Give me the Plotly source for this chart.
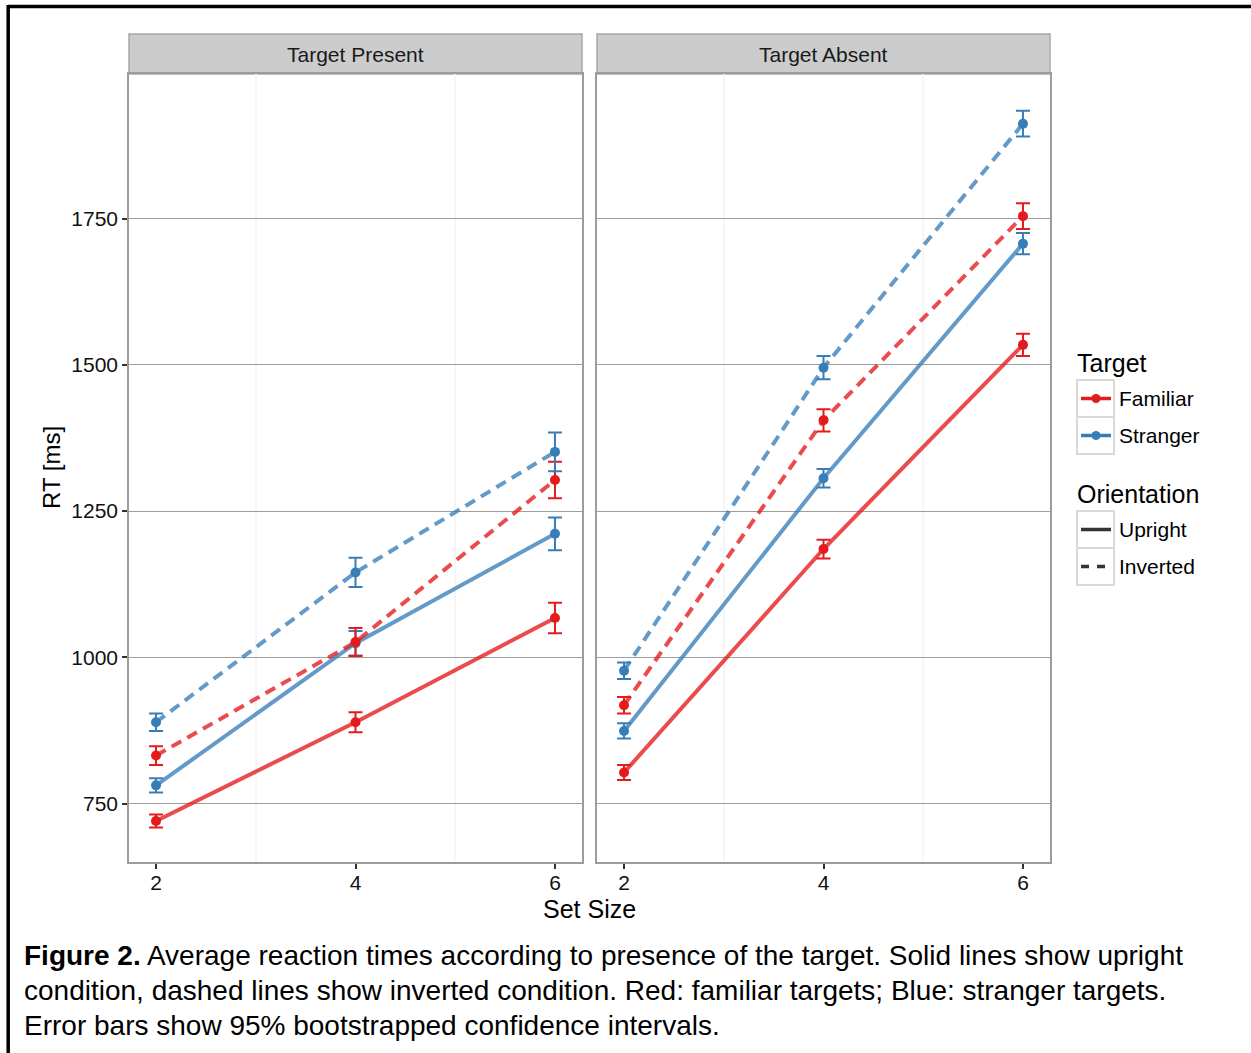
import plotly.graph_objects as go

# ---------------- data ----------------
set_size = [2, 4, 6]
panel_titles = ["Target Present", "Target Absent"]
y_tick_vals = [750, 1000, 1250, 1500, 1750]
x_tick_vals = [2, 4, 6]

# Target Present
present_familiar_upright = [720, 889, 1067]
present_familiar_upright_ci = [11, 17, 26]
present_stranger_upright = [781, 1024, 1211]
present_stranger_upright_ci = [12, 21, 28]
present_familiar_inverted = [832, 1026, 1303]
present_familiar_inverted_ci = [16, 24, 31]
present_stranger_inverted = [889, 1145, 1351]
present_stranger_inverted_ci = [15, 25, 33]

# Target Absent
absent_familiar_upright = [803, 1185, 1534]
absent_familiar_upright_ci = [13, 16, 19]
absent_stranger_upright = [874, 1306, 1707]
absent_stranger_upright_ci = [13, 16, 18]
absent_familiar_inverted = [918, 1405, 1754]
absent_familiar_inverted_ci = [14, 19, 22]
absent_stranger_inverted = [977, 1495, 1912]
absent_stranger_inverted_ci = [14, 20, 22]

caption_lines = [
    "<b>Figure 2.</b> Average reaction times according to presence of the target. Solid lines show upright",
    "condition, dashed lines show inverted condition. Red: familiar targets; Blue: stranger targets.",
    "Error bars show 95% bootstrapped confidence intervals.",
]

# ---------------- styling ----------------
W, H = 1251, 1053
FONT = "Liberation Sans, Arial, Helvetica, sans-serif"
RED = "#E41A1C"
BLUE = "#377EB8"
RED_LINE = "rgba(228,26,28,0.78)"
BLUE_LINE = "rgba(55,126,184,0.78)"
DASH = "11px,7px"


def fx(p):
    return p / W


def fy(p):
    return 1 - p / H


series = [
    ("x", "y", present_familiar_upright, present_familiar_upright_ci, RED, RED_LINE, "solid"),
    ("x", "y", present_stranger_upright, present_stranger_upright_ci, BLUE, BLUE_LINE, "solid"),
    ("x", "y", present_familiar_inverted, present_familiar_inverted_ci, RED, RED_LINE, DASH),
    ("x", "y", present_stranger_inverted, present_stranger_inverted_ci, BLUE, BLUE_LINE, DASH),
    ("x2", "y2", absent_familiar_upright, absent_familiar_upright_ci, RED, RED_LINE, "solid"),
    ("x2", "y2", absent_stranger_upright, absent_stranger_upright_ci, BLUE, BLUE_LINE, "solid"),
    ("x2", "y2", absent_familiar_inverted, absent_familiar_inverted_ci, RED, RED_LINE, DASH),
    ("x2", "y2", absent_stranger_inverted, absent_stranger_inverted_ci, BLUE, BLUE_LINE, DASH),
]

fig = go.Figure()
for xa, ya, means, ci, col, lcol, dash in series:
    fig.add_trace(go.Scatter(
        x=set_size, y=means, xaxis=xa, yaxis=ya, mode="lines",
        line=dict(color=lcol, width=4, dash=dash),
        showlegend=False, hoverinfo="skip"))
for xa, ya, means, ci, col, lcol, dash in series:
    fig.add_trace(go.Scatter(
        x=set_size, y=means, xaxis=xa, yaxis=ya, mode="markers",
        marker=dict(color=col, size=10),
        error_y=dict(type="data", array=ci, color=col, thickness=2, width=7),
        showlegend=False))

axis_common = dict(
    showline=True, mirror=True, linecolor="#9c9c9c", linewidth=1.5,
    zeroline=False,
)
xaxis_common = dict(
    axis_common, range=[1.729, 6.271], tickvals=x_tick_vals,
    ticks="outside", ticklen=5, tickwidth=1.5, tickcolor="#333333",
    ticklabelstandoff=-4,
    showgrid=False,
    minor=dict(tickmode="array", tickvals=[3, 5], showgrid=True,
               gridcolor="#f6f6f6", gridwidth=1.5, ticks=""),
    tickfont=dict(family=FONT, size=21, color="#111111"),
)
yaxis_common = dict(
    axis_common, range=[650, 1997], tickvals=y_tick_vals,
    showgrid=True, gridcolor="#9e9e9e", gridwidth=1.2,
    domain=[fy(862), fy(74)],
)

fig.update_layout(
    width=W, height=H,
    margin=dict(l=0, r=0, t=0, b=0),
    paper_bgcolor="white", plot_bgcolor="white",
    font=dict(family=FONT, color="#111111"),
    showlegend=False,
    xaxis=dict(xaxis_common, domain=[fx(129), fx(582)], anchor="y"),
    xaxis2=dict(xaxis_common, domain=[fx(597), fx(1050)], anchor="y2"),
    yaxis=dict(yaxis_common, anchor="x", ticks="outside", ticklen=5,
               tickwidth=1.5, tickcolor="#333333",
               tickfont=dict(family=FONT, size=21, color="#111111")),
    yaxis2=dict(yaxis_common, anchor="x2", matches="y",
                showticklabels=False, ticks=""),
)

shapes = []
annotations = []

# strips
for (x0, x1), title in zip([(129, 582), (597, 1050)], panel_titles):
    shapes.append(dict(type="rect", xref="paper", yref="paper",
                       x0=fx(x0), x1=fx(x1), y0=fy(74), y1=fy(34),
                       fillcolor="#cccccc", line=dict(color="#a8a8a8", width=1.5),
                       layer="below"))
    annotations.append(dict(xref="paper", yref="paper", x=fx((x0 + x1) / 2), y=fy(54),
                            text=title, showarrow=False, xanchor="center", yanchor="middle",
                            font=dict(family=FONT, size=21, color="#1a1a1a")))

# axis titles
annotations.append(dict(xref="paper", yref="paper", x=fx(589.5), y=fy(909),
                        text="Set Size", showarrow=False, xanchor="center", yanchor="middle",
                        font=dict(family=FONT, size=25, color="#000000")))
annotations.append(dict(xref="paper", yref="paper", x=fx(51), y=fy(468),
                        text="RT [ms]", showarrow=False, xanchor="center", yanchor="middle",
                        textangle=-90,
                        font=dict(family=FONT, size=24, color="#000000")))

# legend (drawn manually to mimic ggplot keys)
legend_groups = [
    ("Target", 363, [("Familiar", RED, "solid", True), ("Stranger", BLUE, "solid", True)], 380),
    ("Orientation", 494, [("Upright", "#333333", "solid", False), ("Inverted", "#333333", "8px,8px", False)], 511),
]
for title, ty, items, box_top in legend_groups:
    annotations.append(dict(xref="paper", yref="paper", x=fx(1075), y=fy(ty),
                            text=title, showarrow=False, xanchor="left", yanchor="middle",
                            font=dict(family=FONT, size=25, color="#000000")))
    for i, (label, col, dash, dot) in enumerate(items):
        y0 = box_top + i * 37
        yc = y0 + 18.5
        shapes.append(dict(type="rect", xref="paper", yref="paper",
                           x0=fx(1077), x1=fx(1114), y0=fy(y0 + 37), y1=fy(y0),
                           fillcolor="white", line=dict(color="#d9d9d9", width=2)))
        shapes.append(dict(type="line", xref="paper", yref="paper",
                           x0=fx(1081), x1=fx(1111), y0=fy(yc), y1=fy(yc),
                           line=dict(color=col, width=3.5, dash=dash)))
        if dot:
            shapes.append(dict(type="circle", xref="paper", yref="paper",
                               x0=fx(1091.5), x1=fx(1100.5), y0=fy(yc + 4.5), y1=fy(yc - 4.5),
                               fillcolor=col, line=dict(color=col, width=0)))
        annotations.append(dict(xref="paper", yref="paper", x=fx(1117), y=fy(yc),
                                text=label, showarrow=False, xanchor="left", yanchor="middle",
                                font=dict(family=FONT, size=21, color="#000000")))

# caption
for i, line in enumerate(caption_lines):
    annotations.append(dict(xref="paper", yref="paper", x=fx(22), y=fy(955 + 35 * i),
                            text=line, showarrow=False, xanchor="left", yanchor="middle",
                            font=dict(family=FONT, size=28, color="#000000")))

# frame (top and left black border)
shapes.append(dict(type="line", xref="paper", yref="paper",
                   x0=fx(8.2), x1=fx(1251), y0=fy(6.5), y1=fy(6.5),
                   line=dict(color="black", width=3.5)))
shapes.append(dict(type="line", xref="paper", yref="paper",
                   x0=fx(8.2), x1=fx(8.2), y0=fy(5), y1=fy(1053),
                   line=dict(color="black", width=3.5)))

fig.update_layout(shapes=shapes, annotations=annotations)

fig.write_html("out.html", config={"displayModeBar": False},
               post_script="document.body.style.margin='0';document.body.style.overflow='hidden';")
